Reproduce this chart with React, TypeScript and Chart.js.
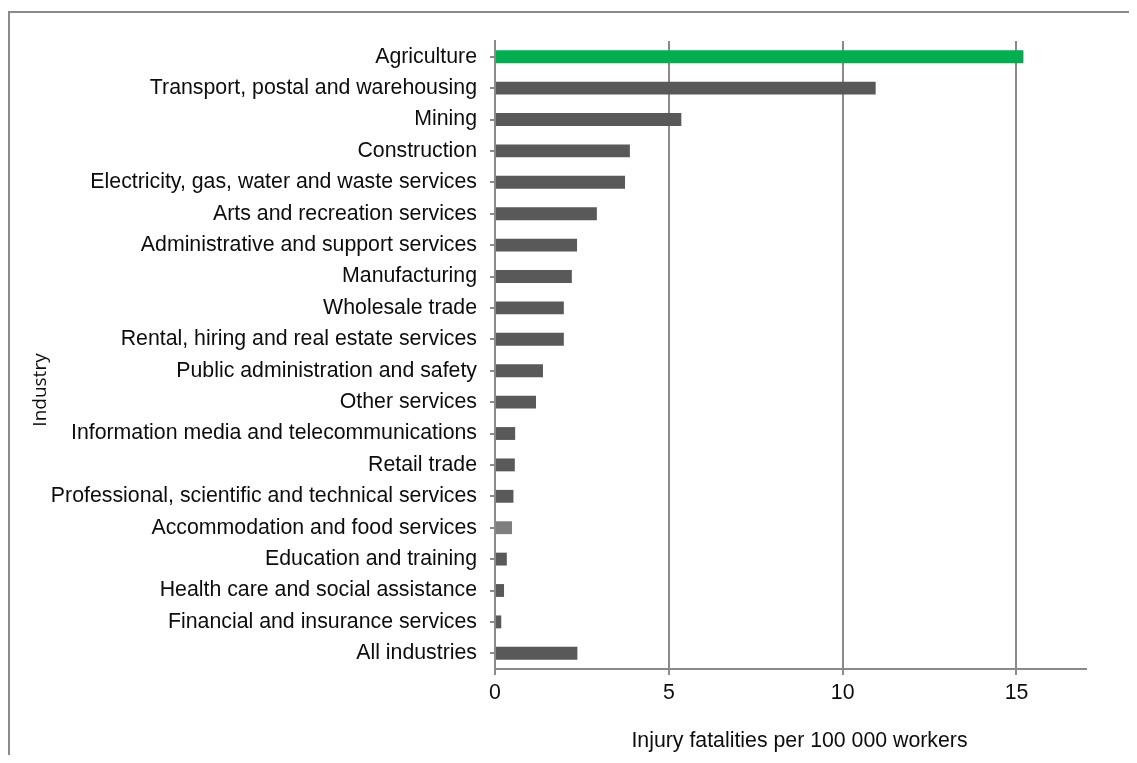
import React, { useEffect, useRef } from "react";
import { Chart, registerables } from "chart.js";

Chart.register(...registerables);

const industries: string[] = [
  "Agriculture",
  "Transport, postal and warehousing",
  "Mining",
  "Construction",
  "Electricity, gas, water and waste services",
  "Arts and recreation services",
  "Administrative and support services",
  "Manufacturing",
  "Wholesale trade",
  "Rental, hiring and real estate services",
  "Public administration and safety",
  "Other services",
  "Information media and telecommunications",
  "Retail trade",
  "Professional, scientific and technical services",
  "Accommodation and food services",
  "Education and training",
  "Health care and social assistance",
  "Financial and insurance services",
  "All industries",
];

const fatalityRates: number[] = [
  15.2, 10.95, 5.36, 3.88, 3.74, 2.93, 2.36, 2.21, 1.98, 1.98, 1.38, 1.18,
  0.58, 0.57, 0.53, 0.49, 0.34, 0.26, 0.18, 2.37,
];

const xTicks: number[] = [0, 5, 10, 15];

const highlighted = "Agriculture";
const lighter = "Accommodation and food services";

const xTitle = "Injury fatalities per 100 000 workers";
const yTitle = "Industry";

const GRAY_LINE = "#8a8a8a";
const FONT = "'Liberation Sans', Arial, sans-serif";
const FONT_SIZE = 21.3;

export default function App() {
  const ref = useRef<HTMLCanvasElement | null>(null);

  useEffect(() => {
    if (!ref.current) return;
    const colors = industries.map((n) =>
      n === highlighted ? "#00b050" : n === lighter ? "#7f7f7f" : "#595959"
    );

    const decor = {
      id: "decor",
      afterDraw(chart: any) {
        const ctx = chart.ctx as CanvasRenderingContext2D;
        const area = chart.chartArea;
        ctx.save();
        // outer frame (top & left)
        ctx.strokeStyle = GRAY_LINE;
        ctx.lineWidth = 2;
        ctx.beginPath();
        ctx.moveTo(1, chart.height);
        ctx.lineTo(1, 4);
        ctx.lineTo(chart.width, 4);
        ctx.stroke();
        // x title
        ctx.fillStyle = "#0d0d0d";
        ctx.font = `${FONT_SIZE}px ${FONT}`;
        ctx.textAlign = "center";
        ctx.textBaseline = "alphabetic";
        ctx.fillText(xTitle, (area.left + area.right) / 2 + 9, 739);
        // y title
        ctx.font = "19px 'Open Sans', sans-serif";
        ctx.translate(38, 382);
        ctx.rotate(-Math.PI / 2);
        ctx.fillText(yTitle, 0, 0);
        ctx.restore();
      },
    };

    const chart = new Chart(ref.current, {
      type: "bar",
      data: {
        labels: industries,
        datasets: [
          {
            data: fatalityRates,
            backgroundColor: colors,
            borderWidth: 0,
            barPercentage: 0.41,
            categoryPercentage: 1,
          },
        ],
      },
      options: {
        indexAxis: "y",
        animation: false,
        responsive: false,
        devicePixelRatio: 1,
        layout: { padding: { top: 33, right: 51, left: 0, bottom: 0 } },
        plugins: {
          legend: { display: false },
          tooltip: { enabled: false },
          title: { display: false },
        },
        scales: {
          x: {
            type: "linear",
            min: 0,
            max: 17,
            afterFit(scale: any) {
              scale.height = 86;
            },
            afterBuildTicks(scale: any) {
              scale.ticks = xTicks.map((v) => ({ value: v }));
            },
            ticks: {
              includeBounds: false,
              stepSize: 5,
              color: "#0d0d0d",
              font: { family: FONT, size: FONT_SIZE },
              padding: 5,
              maxRotation: 0,
            },
            grid: {
              color: (c: any) => (c.tick && c.tick.value === 0 ? "rgba(0,0,0,0)" : GRAY_LINE),
              lineWidth: 2,
              drawTicks: true,
              tickLength: 6,
              tickColor: GRAY_LINE,
            },
            border: { display: true, color: GRAY_LINE, width: 2 },
          },
          y: {
            afterFit(scale: any) {
              scale.width = 487;
            },
            ticks: {
              color: "#0d0d0d",
              font: { family: FONT, size: FONT_SIZE },
              padding: 13,
              autoSkip: false,
            },
            grid: {
              offset: false,
              drawOnChartArea: false,
              drawTicks: true,
              tickLength: 5,
              color: GRAY_LINE,
              lineWidth: 2,
            },
            border: { display: true, color: GRAY_LINE, width: 2 },
          },
        },
      },
      plugins: [decor],
    });
    return () => chart.destroy();
  }, []);

  return (
    <canvas
      ref={ref}
      width={1129}
      height={747}
      style={{ display: "block", width: "1129px", height: "747px" }}
    />
  );
}
